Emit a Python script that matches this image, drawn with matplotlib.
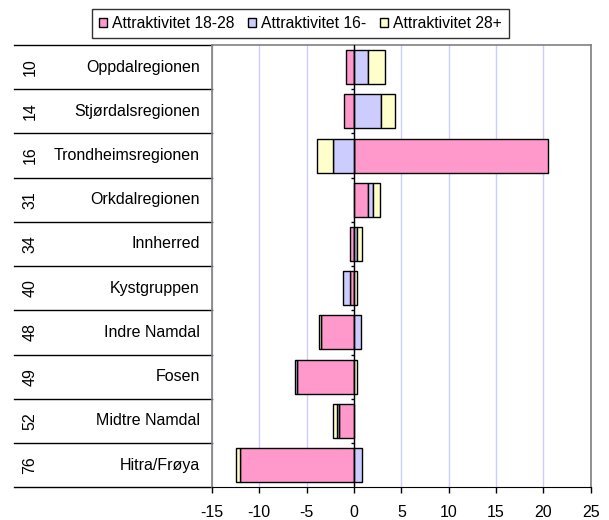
import matplotlib.pyplot as plt
import matplotlib.transforms as mtransforms
import numpy as np

plt.rcParams['font.family'] = ['Liberation Sans', 'DejaVu Sans']
plt.rcParams['axes.unicode_minus'] = False

# data
nummer = ["10", "14", "16", "31", "34", "40", "48", "49", "52", "76"]
regioner = ["Oppdalregionen", "Stjørdalsregionen", "Trondheimsregionen", "Orkdalregionen",
            "Innherred", "Kystgruppen", "Indre Namdal", "Fosen", "Midtre Namdal", "Hitra/Frøya"]
attr_18_28 = [-0.8, -1.05, 20.5, 1.5, -0.4, -0.45, -3.45, -6.0, -1.6, -12.0]
attr_16 = [1.5, 2.85, -2.2, 0.55, 0.3, -0.7, 0.75, -0.18, -0.18, 0.88]
attr_28 = [1.8, 1.5, -1.7, 0.7, 0.55, 0.3, -0.28, 0.3, -0.45, -0.45]

serier = [("Attraktivitet 18-28", attr_18_28, "#FF99CC"),
          ("Attraktivitet 16-", attr_16, "#CCCCFF"),
          ("Attraktivitet 28+", attr_28, "#FFFFCC")]

fig = plt.figure(figsize=(6.09, 5.2), dpi=100)
ax = fig.add_axes([0.348, 0.063, 0.622, 0.8505])

y = np.arange(len(regioner))
pos = np.zeros(len(regioner))
neg = np.zeros(len(regioner))
for navn, verdier, farge in serier:
    v = np.array(verdier)
    left = np.where(v >= 0, pos, neg)
    ax.barh(y, v, left=left, height=0.77, color=farge, edgecolor='black',
            linewidth=1, label=navn, zorder=3)
    pos = pos + np.where(v >= 0, v, 0)
    neg = neg + np.where(v < 0, v, 0)

ax.set_ylim(len(regioner) - 0.5, -0.5)
ax.set_xlim(-15, 25)
ax.set_xticks(range(-15, 26, 5))
ax.set_yticks([])
ax.tick_params(axis='x', direction='out', length=4, width=1, pad=8.5, labelsize=11.5)
ax.grid(axis='x', color='#CCCCFF', linewidth=1, zorder=0)

for s in ['top', 'right', 'left']:
    ax.spines[s].set_color('#808080')
    ax.spines[s].set_linewidth(1.2)
ax.spines['bottom'].set_color('black')

# null-linje med små merker
ax.axvline(0, color='black', linewidth=1, zorder=4)
grenser = np.arange(len(regioner) + 1) - 0.5
ax.hlines(grenser[1:-1], -0.3, 0, color='black', linewidth=1, zorder=4)

# tabell til venstre
trans = mtransforms.blended_transform_factory(ax.transAxes, ax.transData)
for g in grenser:
    ax.plot([-0.523, 0], [g, g], color='black', linewidth=1, transform=trans, clip_on=False)
for i in range(len(regioner)):
    ax.text(-0.48, i, nummer[i], rotation=90, ha='center', va='center',
            fontsize=11.5, transform=trans)
    ax.text(-0.032, i, regioner[i], ha='right', va='center', fontsize=11.5, transform=trans)

leg = fig.legend(loc='upper center', bbox_to_anchor=(0.4935, 0.998), ncol=3, fontsize=11.35,
                 frameon=True, fancybox=False, edgecolor='black', handlelength=0.5,
                 handleheight=0.5, handletextpad=0.35, columnspacing=0.85, borderpad=0.45)
leg.get_frame().set_linewidth(1)

fig.savefig("out.png", dpi=100)
